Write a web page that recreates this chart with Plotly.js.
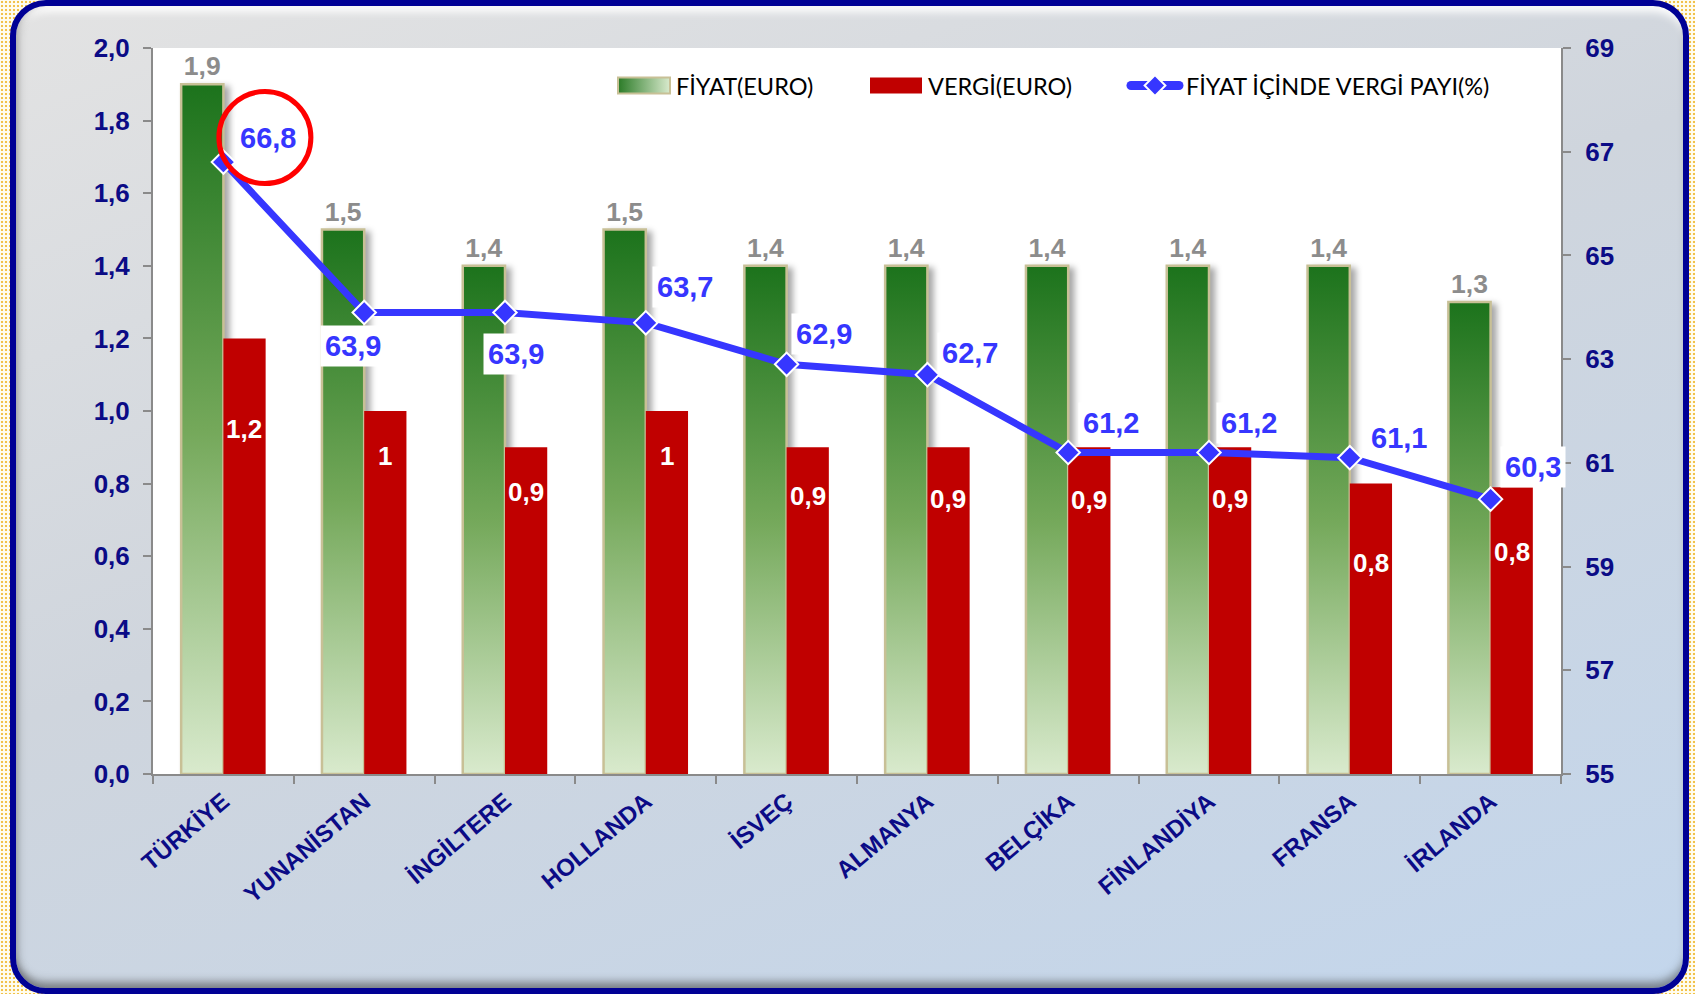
<!DOCTYPE html>
<html><head><meta charset="utf-8">
<script src="https://cdn.plot.ly/plotly-3.0.1.min.js"></script>
<style>
html,body{margin:0;padding:0;width:1695px;height:994px;overflow:hidden;}
body{background-color:#fffdf0;background-image:radial-gradient(circle,#f2c24a 1px,transparent 1.6px);background-size:4px 4px;}
#frame{position:absolute;left:10px;top:0px;width:1667px;height:982px;border:6px solid #000095;border-radius:36px;
background:linear-gradient(160deg,#e3e3e3 0%,#cfd5dd 45%,#c3d6ec 100%);
box-shadow: inset 0 -10px 8px -4px rgba(60,60,60,0.55), inset 8px 0 8px -6px rgba(60,60,60,0.35), inset 0 12px 8px -6px rgba(255,255,255,0.95);}
#chart{position:absolute;left:0;top:0;width:1695px;height:994px;}
</style></head><body><div id="frame"></div><div id="chart"></div>
<script>
const categories = ['TÜRKİYE','YUNANİSTAN','İNGİLTERE','HOLLANDA','İSVEÇ','ALMANYA','BELÇİKA','FİNLANDİYA','FRANSA','İRLANDA'];
const price = [1.9,1.5,1.4,1.5,1.4,1.4,1.4,1.4,1.4,1.3];
const tax = [1.2,1.0,0.9,1.0,0.9,0.9,0.9,0.9,0.8,0.79];
const taxShare = [66.8,63.9,63.9,63.7,62.9,62.7,61.2,61.2,61.1,60.3];
const seriesNames = ['FİYAT(EURO)','VERGİ(EURO)','FİYAT İÇİNDE VERGİ PAYI(%)'];

// label placement tweaks (styling only, pixels)
const shareLabelShift = [[45,24],[-11,-34],[11,-42],[39,36],[37,30],[43,22],[43,29],[40,29],[49,20],[42,32]];
const taxLabelDrop = [91,45,45,45,49,52,53,52,79,65];

const fmt = v => { const r = Math.round(v*10)/10; return (Number.isInteger(r) ? String(r) : r.toFixed(1)).replace('.', ','); };

const NAVY = '#0b0b86';
const BLUE = '#3636ff';
const AX = '#8a8a8a';
const legFont = {family:'Lato', size:23.5, color:'#000000'};

const traces = [
  {type:'bar', name:seriesNames[0], x:categories, y:price, text:price.map(fmt), textposition:'outside',
   textfont:{family:'Liberation Sans', size:26.5, color:'#8c8c8c', weight:'bold'}, cliponaxis:false,
   marker:{color:'#4e8f3c', line:{color:'#c8c096', width:2.5}}, hoverinfo:'skip', legend:'legend'},
  {type:'bar', name:seriesNames[1], x:categories, y:tax, textposition:'none',
   marker:{color:'#c00000', line:{width:0}}, hoverinfo:'skip', legend:'legend2'},
  {type:'scatter', mode:'lines+markers', name:seriesNames[2], x:categories, y:taxShare, yaxis:'y2',
   line:{color:BLUE, width:7}, marker:{symbol:'diamond', size:18, color:BLUE, line:{color:'#ffffff', width:2}},
   cliponaxis:false, hoverinfo:'skip', legend:'legend3'}
];

const annotations = [];
taxShare.forEach((v,i)=>{
  annotations.push({x:i, y:v, xref:'x', yref:'y2', text:fmt(v), showarrow:false,
    xshift:shareLabelShift[i][0], yshift:shareLabelShift[i][1], bgcolor:'#ffffff', borderpad:4,
    font:{family:'Liberation Sans', size:29, color:BLUE, weight:'bold'}});
});
tax.forEach((v,i)=>{
  annotations.push({x:i, y:v, xref:'x', yref:'y', text:fmt(v), showarrow:false,
    xshift:21, yshift:-taxLabelDrop[i],
    font:{family:'Liberation Sans', size:26, color:'#ffffff', weight:'bold'}});
});

const legBase = {orientation:'h', y:0.948, xanchor:'left', yanchor:'middle', bgcolor:'rgba(0,0,0,0)', font:legFont};

const layout = {
  width:1695, height:994,
  margin:{l:153, r:134, t:48, b:220, pad:0},
  paper_bgcolor:'rgba(0,0,0,0)', plot_bgcolor:'#ffffff',
  separators:',.',
  barmode:'group', bargap:0.4, bargroupgap:0,
  showlegend:true,
  legend:Object.assign({x:(636-153)/1408}, legBase),
  legend2:Object.assign({x:(888-153)/1408}, legBase),
  legend3:Object.assign({x:(1146-153)/1408}, legBase),
  xaxis:{type:'category', range:[-0.5, categories.length-0.5], autorange:false, tickangle:-40,
    tickfont:{family:'Liberation Sans', size:24, color:NAVY, weight:'bold'}, ticklabelstandoff:2,
    showline:true, linecolor:AX, linewidth:2, ticks:'outside', tickson:'boundaries', ticklen:8, tickcolor:AX, tickwidth:2,
    showgrid:false, zeroline:false, fixedrange:true},
  yaxis:{range:[0,2], dtick:0.2, tick0:0, tickformat:'.1f', showgrid:false, zeroline:false,
    showline:true, linecolor:AX, linewidth:2, ticks:'outside', ticklen:8, tickcolor:AX, tickwidth:2,
    ticklabelstandoff:8, tickfont:{family:'Liberation Sans', size:26, color:NAVY, weight:'bold'}},
  yaxis2:{range:[55,69], dtick:2, tick0:55, overlaying:'y', side:'right', showgrid:false, zeroline:false,
    showline:true, linecolor:AX, linewidth:2, ticks:'outside', ticklen:8, tickcolor:AX, tickwidth:2,
    ticklabelstandoff:9, tickfont:{family:'Liberation Sans', size:26, color:NAVY, weight:'bold'}},
  annotations:annotations,
  shapes:[{type:'circle', xref:'x', yref:'y2', xsizemode:'pixel', ysizemode:'pixel',
    xanchor:0, yanchor:taxShare[0], x0:-4.5, x1:87.5, y0:-21.5, y1:70.5,
    line:{color:'#ff0000', width:5}, fillcolor:'rgba(0,0,0,0)'}]
};

function decorate(gd){
  const svg = gd.querySelector('svg.main-svg');
  const defs = svg.querySelector('defs');
  const NS='http://www.w3.org/2000/svg';
  function grad(id, x2, y2, stops){
    const g=document.createElementNS(NS,'linearGradient');
    g.setAttribute('id',id); g.setAttribute('x1','0'); g.setAttribute('y1','0'); g.setAttribute('x2',x2); g.setAttribute('y2',y2);
    stops.forEach(([o,c])=>{const s=document.createElementNS(NS,'stop'); s.setAttribute('offset',o); s.setAttribute('stop-color',c); g.appendChild(s);});
    defs.appendChild(g);
  }
  grad('gV','0','1',[[0,'#1c731c'],[0.5,'#74a85a'],[1,'#d9eacd']]);
  grad('gH','1','0',[[0,'#2b7b27'],[1,'#d9eacd']]);
  const barTraces = gd.querySelectorAll('.barlayer .trace');
  if(barTraces[0]) barTraces[0].querySelectorAll('path').forEach(p=>{p.style.fill='url(#gV)'; p.style.filter='drop-shadow(5px 3px 3px rgba(0,0,0,0.35))';});
  // let the widened legend swatches extend past the legend box
  gd.querySelectorAll('.infolayer [clip-path]').forEach(el=>{
    let n = el, inLegend = false;
    while(n && n !== gd){ if(n.classList && [...n.classList].some(c=>/^legend\d*$/.test(c))){ inLegend = true; break; } n = n.parentNode; }
    if(inLegend) el.removeAttribute('clip-path');
  });
  const items = gd.querySelectorAll('.infolayer g.traces');
  items.forEach((it, k)=>{
    const pts = it.querySelectorAll('.legendpoints path');
    if(k < 2){
      pts.forEach(p=>{ p.removeAttribute('transform'); p.setAttribute('d','M-18,-8H34V8H-18Z');
        if(k===0){ p.style.fill='url(#gH)'; p.style.stroke='#c8c096'; p.style.strokeWidth='2px'; } else { p.style.stroke='none'; } });
    } else {
      it.querySelectorAll('.legendlines path').forEach(l=>{ l.setAttribute('d','M-15,0H33'); l.style.strokeLinecap='round'; l.style.strokeWidth='9px'; });
      pts.forEach(p=>{ p.setAttribute('transform','translate(9,0)'); });
    }
  });
}

Plotly.newPlot('chart', traces, layout, {staticPlot:true, displayModeBar:false}).then(decorate);
</script></body></html>
